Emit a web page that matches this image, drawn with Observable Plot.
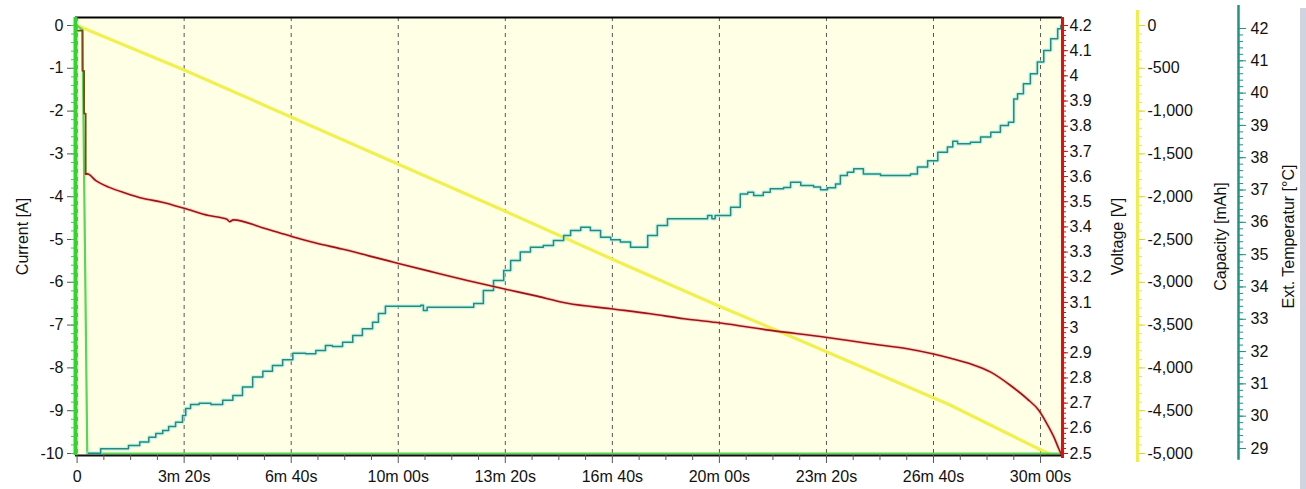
<!DOCTYPE html>
<html><head><meta charset="utf-8">
<script src="https://cdn.jsdelivr.net/npm/d3@7"></script>
<script src="https://cdn.jsdelivr.net/npm/@observablehq/plot@0.6"></script>
<style>
html,body{margin:0;padding:0;background:#fff;overflow:hidden}
#chart{position:relative;width:1306px;height:489px}
#bar{position:absolute;left:1300px;top:8px;width:6px;height:481px;background:#cfd4e0}
</style></head><body><div id="chart"><div id="bar"></div></div>
<script>
// ---- data (time in seconds) ----
const currentTime = [0, 10, 19, 1841];
const currentA    = [0, -0.1, -10, -10];

const voltTime = [0, 10, 10, 13, 13, 16, 16, 19, 35, 59, 91, 122, 159, 200, 246, 280, 285, 292, 346, 401, 446, 495, 545, 582, 604, 666, 729, 797, 853, 916, 997, 1071, 1134, 1202, 1296, 1398, 1482, 1551, 1598, 1632, 1670, 1707, 1744, 1775, 1797, 1812, 1825, 1834, 1839];
const voltV    = [4.18, 4.18, 4.02, 4.02, 3.85, 3.85, 3.61, 3.611, 3.584, 3.558, 3.534, 3.514, 3.498, 3.474, 3.445, 3.430, 3.421, 3.428, 3.397, 3.362, 3.336, 3.312, 3.285, 3.265, 3.253, 3.220, 3.187, 3.154, 3.128, 3.097, 3.075, 3.055, 3.035, 3.018, 2.989, 2.962, 2.936, 2.916, 2.896, 2.878, 2.855, 2.823, 2.770, 2.717, 2.671, 2.618, 2.565, 2.519, 2.496];

const capTime = [0, 200, 800, 1000, 1200, 1310, 1630, 1795, 1815];
const capMAh  = [0, -520, -2170, -2730, -3280, -3570, -4430, -4942, -5000];

const tempTime = [21, 44, 96, 117, 134, 147, 160, 171, 184, 197, 203, 212, 228, 250, 272, 291, 309, 328, 347, 365, 384, 403, 427, 446, 464, 477, 496, 515, 533, 552, 563, 576, 642, 647, 654, 741, 759, 778, 797, 810, 828, 847, 871, 890, 909, 922, 941, 959, 978, 997, 1015, 1034, 1066, 1084, 1103, 1178, 1186, 1192, 1221, 1239, 1253, 1264, 1282, 1295, 1320, 1333, 1352, 1376, 1389, 1402, 1417, 1426, 1439, 1451, 1469, 1501, 1557, 1570, 1589, 1608, 1626, 1636, 1645, 1669, 1688, 1707, 1725, 1740, 1750, 1757, 1768, 1781, 1794, 1806, 1819, 1832, 1838];
const tempC    = [28.85, 28.99, 29.09, 29.20, 29.35, 29.46, 29.56, 29.68, 29.81, 30.02, 30.24, 30.36, 30.40, 30.36, 30.49, 30.64, 30.90, 31.21, 31.39, 31.57, 31.75, 31.95, 31.93, 32.03, 32.19, 32.16, 32.29, 32.50, 32.71, 32.91, 33.18, 33.40, 33.43, 33.27, 33.37, 33.49, 33.89, 34.20, 34.51, 34.82, 35.08, 35.23, 35.28, 35.44, 35.59, 35.75, 35.85, 35.75, 35.54, 35.46, 35.39, 35.23, 35.59, 35.90, 36.11, 36.21, 36.11, 36.21, 36.47, 36.88, 36.93, 36.83, 36.93, 37.04, 37.08, 37.24, 37.14, 37.09, 37.01, 37.07, 37.19, 37.45, 37.55, 37.66, 37.50, 37.45, 37.50, 37.71, 37.91, 38.17, 38.33, 38.51, 38.43, 38.48, 38.64, 38.79, 39.00, 39.10, 39.82, 39.98, 40.29, 40.60, 40.96, 41.32, 41.68, 41.99, 42.09];

// ---- ticks ----
const xTicks = [0, 200, 400, 600, 800, 1000, 1200, 1400, 1600, 1800];
const xTickLabels = ["0", "3m 20s", "6m 40s", "10m 00s", "13m 20s", "16m 40s", "20m 00s", "23m 20s", "26m 40s", "30m 00s"];
const currentTicks = [0, -1, -2, -3, -4, -5, -6, -7, -8, -9, -10];
const currentTickLabels = ["0", "-1", "-2", "-3", "-4", "-5", "-6", "-7", "-8", "-9", "-10"];
const voltTicks = [4.2, 4.1, 4.0, 3.9, 3.8, 3.7, 3.6, 3.5, 3.4, 3.3, 3.2, 3.1, 3.0, 2.9, 2.8, 2.7, 2.6, 2.5];
const voltTickLabels = ["4.2", "4.1", "4", "3.9", "3.8", "3.7", "3.6", "3.5", "3.4", "3.3", "3.2", "3.1", "3", "2.9", "2.8", "2.7", "2.6", "2.5"];
const capTicks = [0, -500, -1000, -1500, -2000, -2500, -3000, -3500, -4000, -4500, -5000];
const capTickLabels = ["0", "-500", "-1,000", "-1,500", "-2,000", "-2,500", "-3,000", "-3,500", "-4,000", "-4,500", "-5,000"];
const tempTicks = [42, 41, 40, 39, 38, 37, 36, 35, 34, 33, 32, 31, 30, 29];
const tempTickLabels = ["42", "41", "40", "39", "38", "37", "36", "35", "34", "33", "32", "31", "30", "29"];

// ---- mapping of secondary axes into the current [A] scale ----
const vToY = v => (v - 4.2) / 1.7 * 10;
const cToY = c => c / 500;
const tToY = t => -0.070 + (t - 42) * 0.75485;

const xDomain = [-3, 1841];
const yDomain = [-10.047, 0.187];

const rows = (xs, ys, f) => xs.map((t, i) => ({t, y: f(ys[i])}));
const current = rows(currentTime, currentA, d => d);
const volt = rows(voltTime, voltV, vToY);
const voltStart = volt.slice(0, 8);   // stepped initial drop
const voltCurve = volt.slice(6);      // smooth discharge curve
const cap = rows(capTime, capMAh, cToY);
const temp = rows(tempTime, tempC, tToY);

function labelled(vals, labels, f) {
  const pos = vals.map(f);
  const m = new Map(pos.map((p, i) => [p, labels[i]]));
  return {pos, fmt: d => m.get(d)};
}
const xA = labelled(xTicks, xTickLabels, d => d);
const curA = labelled(currentTicks, currentTickLabels, d => d);
const vA = labelled(voltTicks, voltTickLabels, vToY);
const cA = labelled(capTicks, capTickLabels, cToY);
const tA = labelled(tempTicks, tempTickLabels, tToY);

const xMinor = d3.range(0, 1841, 50).filter(d => d % 200 !== 0);
const vMinor = d3.range(250, 421, 2).map(d => vToY(d / 100));
const cMinor = d3.range(0, -5001, -100).map(cToY);
const tMinor = d3.range(145, 211, 1).map(d => tToY(d / 5));
const curMinor = d3.range(0, 51, 1).map(d => -d / 5);

const FS = 16;
const font = "'Liberation Sans', Arial, sans-serif";
const title = (txt, anchor, dx) => Plot.text([txt], {frameAnchor: anchor, dx, rotate: -90, textAnchor: "middle", lineAnchor: "middle", fontSize: FS, fill: "#111"});

const chart = Plot.plot({
  width: 1306, height: 489,
  marginLeft: 75, marginRight: 244, marginTop: 17, marginBottom: 34,
  x: {domain: xDomain, axis: null},
  y: {domain: yDomain, axis: null},
  style: {fontFamily: font, fontSize: FS + "px", color: "#111", background: "transparent", overflow: "visible"},
  marks: [
    Plot.frame({fill: "#FFFFE6", stroke: "none"}),
    Plot.gridX(xTicks, {stroke: "#444", strokeOpacity: 0.9, strokeDasharray: "4,4", strokeWidth: 1}),
    // capacity
    Plot.line(cap, {x: "t", y: "y", stroke: "#F0F050", strokeWidth: 3.2}),
    // current
    Plot.line(current, {x: "t", y: "y", stroke: "#55D855", strokeWidth: 2.2}),
    // temperature
    Plot.line(temp, {x: "t", y: "y", stroke: "#A8EEE8", strokeWidth: 4, strokeOpacity: 0.6, curve: "step-after"}),
    Plot.line(temp, {x: "t", y: "y", stroke: "#268A7E", strokeWidth: 1.5, curve: "step-after"}),
    // voltage
    Plot.line(voltCurve, {x: "t", y: "y", stroke: "#FF9A9A", strokeWidth: 3.5, strokeOpacity: 0.45, curve: "monotone-x"}),
    Plot.line(voltStart, {x: "t", y: "y", stroke: "#7A4A10", strokeWidth: 1.8}),
    Plot.line(voltCurve, {x: "t", y: "y", stroke: "#9A1616", strokeWidth: 1.6, curve: "monotone-x"}),
    // frame lines
    Plot.ruleY([yDomain[1]], {stroke: "#000", strokeWidth: 2}),
    Plot.ruleY([yDomain[0]], {stroke: "#111", strokeWidth: 2}),
    // x axis
    Plot.axisX(xMinor, {anchor: "bottom", tickSize: 5, fill: "none", stroke: "#555", label: null}),
    Plot.axisX(xA.pos, {anchor: "bottom", tickSize: 8, tickPadding: 7, tickFormat: xA.fmt, stroke: "#555", fill: "#111", fontSize: FS, label: null}),
    // left current axis
    Plot.axisY(curA.pos, {anchor: "left", tickSize: 8, tickPadding: 4, tickFormat: curA.fmt, stroke: "#555", fill: "#111", fontSize: FS, label: null}),
    Plot.axisY(curMinor, {anchor: "left", tickSize: 4, fill: "none", stroke: "#2FD62F", label: null}),
    Plot.ruleX([xDomain[0]], {y1: yDomain[0], y2: yDomain[1], stroke: "#2FD62F", strokeWidth: 4}),
    title("Current [A]", "left", -53),
    // voltage axis
    Plot.axisY(vMinor, {anchor: "right", tickSize: 3, fill: "none", stroke: "#D81010", label: null}),
    Plot.axisY(vA.pos, {anchor: "right", tickSize: 5, tickPadding: 2, tickFormat: vA.fmt, stroke: "#D81010", fill: "#111", fontSize: FS, label: null}),
    Plot.ruleX([xDomain[1]], {y1: yDomain[0] - 0.07, y2: yDomain[1], stroke: "#E01010", strokeWidth: 3}),
    title("Voltage [V]", "right", 55),
    // capacity axis
    Plot.axisY(cMinor, {anchor: "right", dx: 75, tickSize: 4, fill: "none", stroke: "#E6E640", label: null}),
    Plot.axisY(cA.pos, {anchor: "right", dx: 75, tickSize: 7, tickPadding: 3, tickFormat: cA.fmt, stroke: "#D8D830", fill: "#111", fontSize: FS, label: null}),
    Plot.ruleX([xDomain[1]], {dx: 75, y1: -10.21, y2: 0.35, stroke: "#EEEE50", strokeWidth: 3}),
    title("Capacity [mAh]", "right", 158),
    // temperature axis
    Plot.axisY(tMinor, {anchor: "right", dx: 176, tickSize: 4, fill: "none", stroke: "#1E9484", label: null}),
    Plot.axisY(tA.pos, {anchor: "right", dx: 176, tickSize: 7, tickPadding: 5, tickFormat: tA.fmt, stroke: "#1E9484", fill: "#111", fontSize: FS, label: null}),
    Plot.ruleX([xDomain[1]], {dx: 176, y1: -10.16, y2: 0.47, stroke: "#1E9484", strokeWidth: 2.5}),
    title("Ext. Temperatur [°C]", "right", 226)
  ]
});
document.getElementById("chart").prepend(chart);
</script>
</body></html>
